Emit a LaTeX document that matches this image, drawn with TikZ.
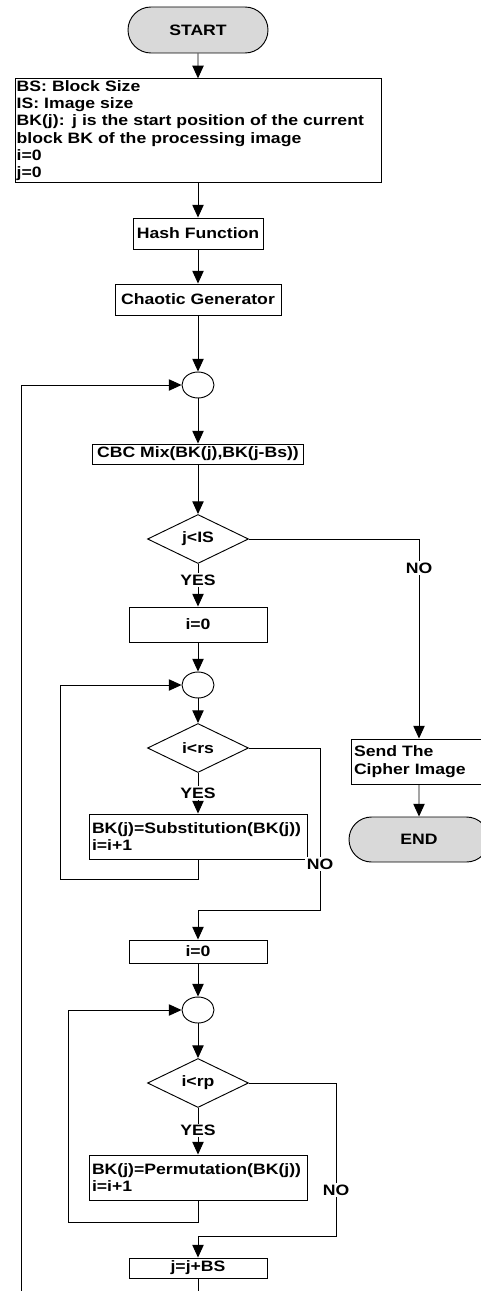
\documentclass[tikz,border=0pt]{standalone}
\usepackage{fontspec}
\setmainfont[FakeStretch=1.17]{Liberation Sans}
\usetikzlibrary{shapes.geometric,shapes.misc,arrows.meta}
\definecolor{termgray}{RGB}{217,217,217}

\begin{document}
\begin{tikzpicture}[x=0.75pt,y=-0.75pt,
  font=\fontsize{11.3}{13}\selectfont\bfseries,
  line width=0.7pt,
  box/.style={draw, rectangle, inner sep=1pt, align=center},
  lbox/.style={draw, rectangle, inner xsep=2.25pt, inner ysep=1pt, align=left},
  term/.style={draw, rounded rectangle, fill=termgray, minimum width=105pt, inner sep=0pt},
  junction/.style={draw, ellipse, minimum width=24pt, minimum height=19.5pt, inner sep=0pt},
  decision/.style={draw, diamond, minimum width=75.75pt, minimum height=36.75pt, inner sep=0pt},
  flow/.style={-{Triangle[length=9.5pt,width=8.5pt]}},
  lbl/.style={fill=white, inner sep=1pt},
]
\useasboundingbox (0,0) rectangle (481,1291);

% main column
\node[term, minimum height=34.5pt] (start) at (198,30) {START};
\node[lbox, text width=272pt, minimum height=77.25pt, inner xsep=1.25pt] (info) at (198,130.5)
  {BS: Block Size\\IS: Image size\\BK(j): j is the start position of the current\\block BK of the processing image\\i=0\\j=0};
\node[box, minimum width=97.5pt, minimum height=23.25pt] (hash) at (198,233.5) {Hash Function};
\node[box, minimum width=124.5pt, minimum height=23.25pt] (chaos) at (198,299.5) {Chaotic Generator};
\node[junction] (c1) at (198,385) {};
\node[box, minimum width=158.25pt, minimum height=15pt] (cbc) at (198,454) {CBC Mix(BK(j),BK(j-Bs))};
\node[decision] (d1) at (198,539) {j<IS};
\node[box, minimum width=103.5pt, minimum height=26.25pt] (z1) at (198,624.5) {i=0};
\node[junction] (c2) at (198,685) {};
\node[decision] (d2) at (198,748) {i<rs};
\node[lbox, text width=159pt, minimum height=33.75pt] (sub) at (198,836.5)
  {BK(j)=Substitution(BK(j))\\i=i+1};
\node[box, minimum width=103.5pt, minimum height=17.25pt] (z2) at (198,951.5) {i=0};
\node[junction] (c3) at (198,1010) {};
\node[decision] (d3) at (198,1083) {i<rp};
\node[lbox, text width=159pt, minimum height=33.75pt] (perm) at (198,1177.5)
  {BK(j)=Permutation(BK(j))\\i=i+1};
\node[box, minimum width=103.5pt, minimum height=15pt] (jbs) at (198,1268) {j=j+BS};

% exit column
\node[lbox, text width=97.5pt, minimum height=33.75pt] (send) at (419,761.5) {Send The\\Cipher Image};
\node[term, minimum height=33.75pt] (end) at (419,839.5) {END};

% helper points for loops
\coordinate (l2a) at (60,879);
\coordinate (l2b) at (60,685);
\coordinate (r2) at (320,910);
\coordinate (l3a) at (68,1222);
\coordinate (l3b) at (68,1010);
\coordinate (r3) at (336,1236);
\coordinate (bot) at (198,1291);
\coordinate (ol1) at (21,1291);
\coordinate (ol2) at (21,385);

% straight flow
\draw[flow] (start) -- (info);
\draw[flow] (info) -- (hash);
\draw[flow] (hash) -- (chaos);
\draw[flow] (chaos) -- (c1);
\draw[flow] (c1) -- (cbc);
\draw[flow] (cbc) -- (d1);
\draw[flow] (d1) -- node[lbl, pos=0.38] {YES} (z1);
\draw[flow] (z1) -- (c2);
\draw[flow] (c2) -- (d2);
\draw[flow] (d2) -- node[lbl, pos=0.49] {YES} (sub);
\draw[flow] (z2) -- (c3);
\draw[flow] (c3) -- (d3);
\draw[flow] (d3) -- node[lbl, pos=0.49] {YES} (perm);
\draw (jbs) -- (bot);

% branches and loops
\draw[flow] (d1.east) -| (send.north);
\draw[flow] (send) -- (end);
\draw[flow] (sub.south) |- (l2a) -- (l2b) -- (c2.west);
\draw[flow] (d2.east) -| (r2) -| (z2.north);
\draw[flow] (perm.south) |- (l3a) -- (l3b) -- (c3.west);
\draw[flow] (d3.east) -| (r3) -| (jbs.north);
\draw[flow] (ol1) -- (ol2) -- (c1.west);

% NO labels
\node[lbl] (no1) at (419,568) {NO};
\node[lbl] (no2) at (320,864) {NO};
\node[lbl] (no3) at (336,1190) {NO};
\end{tikzpicture}
\end{document}
